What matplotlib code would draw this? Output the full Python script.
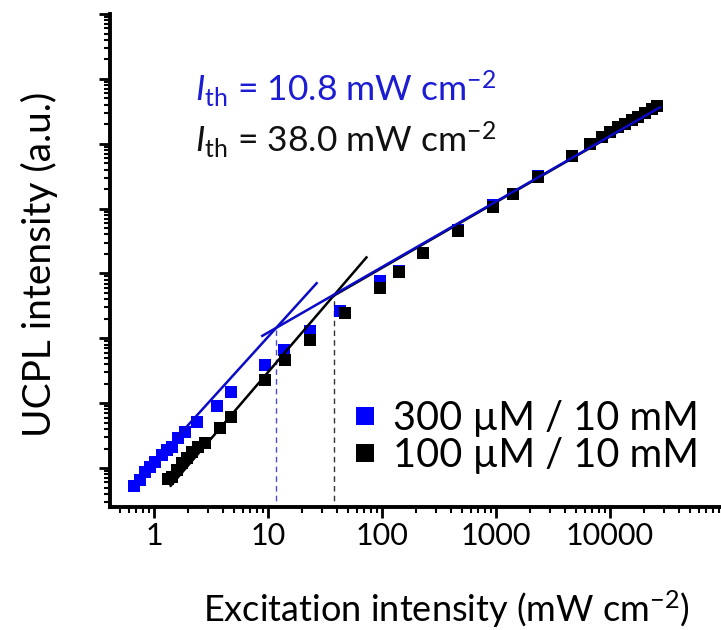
import numpy as np
import matplotlib
matplotlib.use("Agg")
import matplotlib.pyplot as plt
from matplotlib.ticker import LogLocator, NullFormatter, FuncFormatter, FixedLocator

plt.rcParams['font.family'] = ['Lato', 'DejaVu Sans']
plt.rcParams['mathtext.fontset'] = 'custom'
plt.rcParams['mathtext.rm'] = 'Lato'
plt.rcParams['mathtext.it'] = 'Lato:italic'
plt.rcParams['mathtext.bf'] = 'Lato:bold'

# 300 uM / 10 mM  (blue)
x_blue = [0.67, 0.75, 0.83, 0.92, 1.02, 1.17, 1.29, 1.43, 1.63, 1.87, 2.37, 3.55, 4.7,
          9.4, 13.8, 23.3, 43, 96, 141, 230, 467, 935, 1400, 2350, 4600,
          6680, 8460, 10000, 11830, 13550, 15500, 17740, 20280, 23200, 25700]
y_blue = [0.53, 0.65, 0.88, 1.05, 1.25, 1.59, 1.9, 2.1, 2.9, 3.6, 5.2, 9.1, 15,
          39, 66, 131, 263, 760, 1100, 2100, 4600, 11500, 16800, 31500, 64000,
          98000, 126000, 151000, 178000, 200000, 229000, 257000, 295000, 339000, 380000]

# 100 uM / 10 mM  (black)
x_black = [1.33, 1.43, 1.58, 1.75, 1.94, 2.17, 2.45, 2.8, 3.79, 4.73,
           9.4, 14.1, 23.4, 47.4, 96, 141, 230, 467, 935, 1400, 2350, 4600,
           6680, 8460, 10000, 11830, 13550, 15500, 17740, 20280, 23200, 25700]
y_black = [0.67, 0.73, 0.93, 1.18, 1.41, 1.79, 2.13, 2.41, 4.2, 6.2,
           22.5, 46.7, 95, 246, 604, 1070, 2040, 4500, 10700, 16600, 31000, 64000,
           98000, 126000, 151000, 178000, 200000, 229000, 257000, 295000, 339000, 380000]

# power-law fits  y = A * x**n  over [x_start, x_end]
fit_blue = [(1.21, 1.94, 1.6, 26.7), (12.0, 1.01, 8.9, 27400)]
fit_black = [(0.268, 2.05, 1.4, 73), (11.5, 1.013, 37, 27400)]
thresholds = [11.7, 37.6]

blue = '#0000ff'
blue_line = '#0a0ac8'
blue_text = '#1c1cd2'

fig = plt.figure(figsize=(7.21, 6.30), dpi=100)
ax = fig.add_axes([110 / 721, 1 - 507 / 630, 611 / 721, 493 / 630])


def draw_fits(fits, color, z):
    for A, n, x0, x1 in fits:
        xs = np.logspace(np.log10(x0), np.log10(x1), 50)
        ax.plot(xs, A * xs ** n, color=color, lw=1.8, zorder=z)


# threshold guides
for (A, n, _, _), th, col in zip([fit_blue[0], fit_black[0]], thresholds, ['#4a4ad8', '#333333']):
    ax.plot([th, th], [0.01, A * th ** n], color=col, lw=1.0, ls=(0, (4, 3)), zorder=1)

ax.plot(x_blue, y_blue, 's', color=blue, ms=8, mew=0, zorder=2, label='300 µM / 10 mM')
ax.plot(x_black, y_black, 's', color='black', ms=8, mew=0, zorder=3, label='100 µM / 10 mM')
draw_fits(fit_black, 'black', 4)
draw_fits(fit_blue, blue_line, 5)

ax.set_xscale('log')
ax.set_yscale('log')
ax.set_xlim(0.411, 94000)
ax.set_ylim(10 ** -0.6, 1e7)

ax.xaxis.set_major_locator(FixedLocator([1, 10, 100, 1000, 10000, 100000]))
ax.xaxis.set_major_formatter(FuncFormatter(lambda v, p: f'{v:g}'))
ax.xaxis.set_minor_locator(LogLocator(base=10, subs=np.arange(2, 10)))
ax.xaxis.set_minor_formatter(NullFormatter())
ax.yaxis.set_major_locator(LogLocator(base=10, numticks=20))
ax.yaxis.set_minor_locator(LogLocator(base=10, subs=np.arange(2, 10), numticks=20))
ax.yaxis.set_major_formatter(NullFormatter())
ax.yaxis.set_minor_formatter(NullFormatter())

for s in ['top', 'right']:
    ax.spines[s].set_visible(False)
for s in ['left', 'bottom']:
    ax.spines[s].set_linewidth(2.8)

ax.tick_params(which='major', direction='out', length=8, width=2, labelsize=22, pad=3)
ax.tick_params(which='minor', direction='out', length=4.5, width=1.5)

ax.set_xlabel('Excitation intensity (mW cm$^{-2}$)', fontsize=26, va='baseline')
ax.xaxis.set_label_coords((446 - 110) / 611, -(622 - 507) / 493)
ax.set_ylabel('UCPL intensity (a.u.)', fontsize=28, va='center')
ax.yaxis.set_label_coords((39 - 110) / 611, (507 - 264) / 493)

fig.text(195 / 721, 1 - 101 / 630, r'$I_{\mathrm{th}}$ = 10.8 mW cm$^{-2}$',
         color=blue_text, fontsize=25.5, ha='left', va='baseline')
fig.text(195 / 721, 1 - 152 / 630, r'$I_{\mathrm{th}}$ = 38.0 mW cm$^{-2}$',
         color='#111111', fontsize=25.5, ha='left', va='baseline')

ax.legend(loc='center left', bbox_to_anchor=(355 / 721, 1 - 437 / 630),
          bbox_transform=fig.transFigure, frameon=False, fontsize=28.5,
          handlelength=0.5, handletextpad=0.45, labelspacing=0.0,
          markerscale=1.7, numpoints=1, borderpad=0, borderaxespad=0)

fig.savefig('out.png', dpi=100)
